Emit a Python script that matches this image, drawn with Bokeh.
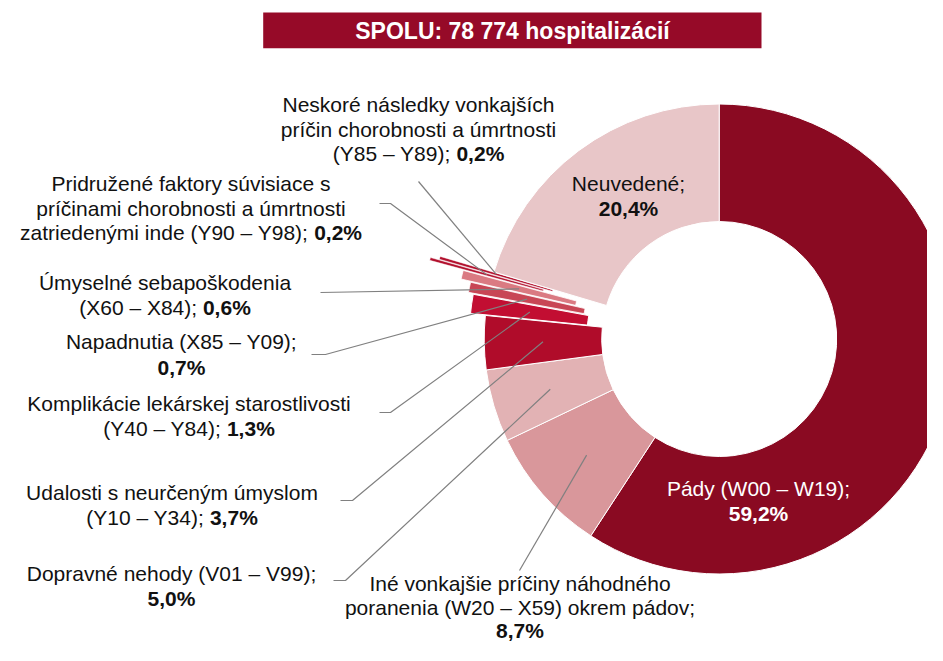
import math
from bokeh.plotting import figure
from bokeh.models import Range1d
from bokeh.embed import file_html
from bokeh.resources import INLINE
from bokeh.core.properties import value

# ---------------- data ----------------
total_hospitalizations = 78774
categories = [
    "Pády (W00 – W19)",
    "Iné vonkajšie príčiny náhodného poranenia (W20 – X59) okrem pádov",
    "Dopravné nehody (V01 – V99)",
    "Udalosti s neurčeným úmyslom (Y10 – Y34)",
    "Komplikácie lekárskej starostlivosti (Y40 – Y84)",
    "Napadnutia (X85 – Y09)",
    "Úmyselné sebapoškodenia (X60 – X84)",
    "Pridružené faktory súvisiace s príčinami chorobnosti a úmrtnosti zatriedenými inde (Y90 – Y98)",
    "Neskoré následky vonkajších príčin chorobnosti a úmrtnosti (Y85 – Y89)",
    "Neuvedené",
]
shares = [59.2, 8.7, 5.0, 3.7, 1.3, 0.7, 0.6, 0.2, 0.2, 20.4]

# label text lines (regular part, followed by the bold percentage where given)
label_text = [
    [["Pády (W00 – W19);"], ["", "PCT"]],
    [["Iné vonkajšie príčiny náhodného"], ["poranenia (W20 – X59) okrem pádov;"], ["", "PCT"]],
    [["Dopravné nehody (V01 – V99);"], ["", "PCT"]],
    [["Udalosti s neurčeným úmyslom"], ["(Y10 – Y34); ", "PCT"]],
    [["Komplikácie lekárskej starostlivosti"], ["(Y40 – Y84); ", "PCT"]],
    [["Napadnutia (X85 – Y09);"], ["", "PCT"]],
    [["Úmyselné sebapoškodenia"], ["(X60 – X84); ", "PCT"]],
    [["Pridružené faktory súvisiace s"], ["príčinami chorobnosti a úmrtnosti"], ["zatriedenými inde (Y90 – Y98); ", "PCT"]],
    [["Neskoré následky vonkajších"], ["príčin chorobnosti a úmrtnosti"], ["(Y85 – Y89); ", "PCT"]],
    [["Neuvedené;"], ["", "PCT"]],
]

# ---------------- styles / layout ----------------
colors = ["#8A0A22", "#D9979B", "#E2B2B4", "#B00C2A", "#C20E32",
          "#C84655", "#DA7A82", "#B2102D", "#B2102D", "#E8C6C8"]
explode = [0, 0, 0, 0, 15, 20, 30, 65, 56, 0]
border_w = [1, 1, 1, 1, 1, 0.8, 0.8, 0.5, 0.5, 1]
text_colors = ["white"] + ["#111111"] * 9

W, H = 927, 645
CX, CY = 718.7, 338.5          # donut centre in picture pixels
R_OUT, R_IN = 235.0, 117.5
FS = 21                         # label font size px
LH = 24.5                       # line height

# label anchor (centre x, first-line y) in picture pixels
label_pos = [(758, 488), (519.5, 583), (171, 573), (171.5, 492), (188.5, 403),
             (181, 341), (164.5, 282), (190.5, 183), (418, 104), (628, 183)]
line_h = [LH, 23.5, LH, LH, LH, 26, LH, LH, LH, LH]
# leader start (and optional elbow) in picture pixels; None = no leader
leader_start = [None, [(519, 570)], [(333, 580), (345, 580)], [(340, 500), (352, 500)],
                [(379, 412), (390, 412)], [(311, 354), (325, 354)], [(320, 292)],
                [(379, 203), (390, 203)], [(418, 181)], None]


def X(sx):
    return sx - CX


def Y(sy):
    return CY - sy


# Arial / Liberation Sans advance widths (per 1000 em)
REG = {' ': 278, '(': 333, ')': 333, ';': 278, '–': 556, 'Y': 667, 'X': 667, ',': 278,
       '%': 889, 'z': 500, 'a': 556, 't': 278, 'r': 333, 'i': 222, 'e': 556, 'd': 556,
       'n': 556, 'ý': 500, 'm': 833}
BOLD = {',': 278, '%': 889}


def tw(s, table):
    return sum(table.get(c, 556) for c in s) * FS / 1000.0


def pct(v):
    return ("%.1f%%" % v).replace(".", ",")


p = figure(width=W, height=H, output_backend="svg", toolbar_location=None,
           x_range=Range1d(-CX, W - CX), y_range=Range1d(CY - H, CY),
           x_axis_type=None, y_axis_type=None, min_border=0)
p.grid.visible = False
p.outline_line_color = None
p.background_fill_color = "white"

# ---------------- title box ----------------
p.quad(left=[X(262.7)], right=[X(761)], top=[Y(12)], bottom=[Y(47.7)],
       fill_color="#960A28", line_color=None)
title = "SPOLU: %s hospitalizácií" % format(total_hospitalizations, ",").replace(",", " ")
p.text(x=[X(512)], y=[Y(30)], text=[title], text_color="white",
       text_font=value("Liberation Sans"), text_font_style="bold", text_font_size="23px",
       text_align="center", text_baseline="middle")

# ---------------- donut ----------------
cum = 0.0
mids = []
for i, v in enumerate(shares):
    t0 = cum / 100.0 * 2 * math.pi
    t1 = (cum + v) / 100.0 * 2 * math.pi
    cum += v
    start = math.pi / 2 - t1
    end = math.pi / 2 - t0
    mid = (start + end) / 2
    ox = explode[i] * math.cos(mid)
    oy = explode[i] * math.sin(mid)
    mids.append((mid, ox, oy))
    p.annular_wedge(x=[ox], y=[oy], inner_radius=R_IN, outer_radius=R_OUT,
                    start_angle=start, end_angle=end, direction="anticlock",
                    fill_color=colors[i], line_color="white", line_width=border_w[i])

# ---------------- leader lines ----------------
r_mid = (R_IN + R_OUT) / 2
xs, ys = [], []
for i, st in enumerate(leader_start):
    if st is None:
        continue
    mid, ox, oy = mids[i]
    ex = ox + r_mid * math.cos(mid)
    ey = oy + r_mid * math.sin(mid)
    xs.append([X(a) for a, b in st] + [ex])
    ys.append([Y(b) for a, b in st] + [ey])
p.multi_line(xs=xs, ys=ys, line_color="#808080", line_width=1.2)

# ---------------- labels ----------------
for i, lines in enumerate(label_text):
    cx, y0 = label_pos[i]
    for k, parts in enumerate(lines):
        sy = y0 + k * line_h[i]
        reg = parts[0]
        bold = pct(shares[i]) if len(parts) > 1 else ""
        if bold and reg:
            wr = tw(reg, REG)
            wb = tw(bold, BOLD)
            left = cx - (wr + wb) / 2
            split = left + wr
            p.text(x=[X(split - tw(" ", REG))], y=[Y(sy)], text=[reg.rstrip()],
                   text_color=text_colors[i], text_font=value("Liberation Sans"),
                   text_font_size="%dpx" % FS, text_align="right", text_baseline="middle")
            p.text(x=[X(split)], y=[Y(sy)], text=[bold],
                   text_color=text_colors[i], text_font=value("Liberation Sans"),
                   text_font_style="bold", text_font_size="%dpx" % FS,
                   text_align="left", text_baseline="middle")
        elif bold:
            p.text(x=[X(cx)], y=[Y(sy)], text=[bold],
                   text_color=text_colors[i], text_font=value("Liberation Sans"),
                   text_font_style="bold", text_font_size="%dpx" % FS,
                   text_align="center", text_baseline="middle")
        else:
            p.text(x=[X(cx)], y=[Y(sy)], text=[reg],
                   text_color=text_colors[i], text_font=value("Liberation Sans"),
                   text_font_size="%dpx" % FS, text_align="center", text_baseline="middle")

open("out.html", "w").write(file_html(p, INLINE))
